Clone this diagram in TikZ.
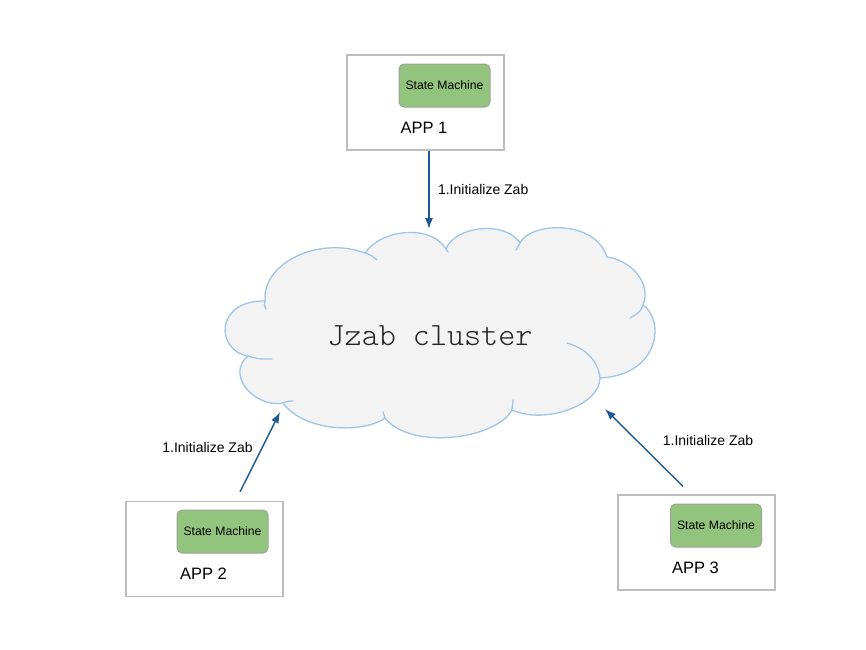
\documentclass[tikz,border=0pt]{standalone}
\usepackage{fontspec}
\setmainfont{Liberation Sans}
\newfontfamily\clustermono{Latin Modern Mono Light}
\usetikzlibrary{arrows.meta}
\definecolor{boxgray}{HTML}{BDBDBD}
\definecolor{smgreen}{HTML}{93C47D}
\definecolor{smedge}{HTML}{9AA595}
\definecolor{cloudfill}{HTML}{F3F3F3}
\definecolor{cloudedge}{HTML}{9FC5E8}
\definecolor{flowblue}{HTML}{1F5A96}
\begin{document}
\begin{tikzpicture}
        [
            x=1pt, y=-1pt,
            app/.style={rectangle, draw=boxgray, line width=1.2pt, fill=white, minimum width=157pt, minimum height=95pt},
            sm/.style={rectangle, rounded corners=5pt, draw=smedge, line width=1pt, fill=smgreen, minimum width=91pt, minimum height=43pt, font=\fontsize{12.2}{14}\selectfont},
            appname/.style={font=\fontsize{16.5}{19}\selectfont},
            flow/.style={-{Latex[length=11pt,width=8pt]}, line width=1.4pt, flowblue},
            flowlabel/.style={text=black, font=\fontsize{14}{16}\selectfont},
            puff/.style={draw=cloudedge, line width=1.3pt, line cap=round},
        ]
            \useasboundingbox (0,0) rectangle (866,649);
            \fill[white] (0,0) rectangle (866,649);

            % cloud outline, junctions A..K clockwise
            \coordinate (A) at (265,301);
            \coordinate (B) at (365,253);
            \coordinate (C) at (446,249);
            \coordinate (D) at (520,243);
            \coordinate (E) at (607,257);
            \coordinate (F) at (643,305);
            \coordinate (G) at (600,378);
            \coordinate (H) at (512,410);
            \coordinate (I) at (385,418);
            \coordinate (J) at (283,403);
            \coordinate (K) at (248,356);
            \path[puff, fill=cloudfill] (K) .. controls (215,350) and (215,300) .. (A)
                .. controls (262,262) and (320,236) .. (B)
                .. controls (380,230) and (430,223) .. (C)
                .. controls (455,226) and (505,220) .. (D)
                .. controls (530,222) and (595,219) .. (E)
                .. controls (630,260) and (652,282) .. (F)
                .. controls (665,320) and (660,375) .. (G)
                .. controls (600,405) and (545,425) .. (H)
                .. controls (495,440) and (410,450) .. (I)
                .. controls (365,433) and (305,433) .. (J)
                .. controls (255,408) and (225,375) .. (K) -- cycle;
            % inner ends of the puffs
            \draw[puff] (A) .. controls (264,304) .. (266,309);
            \draw[puff] (B) .. controls (371,255) .. (377,260);
            \draw[puff] (C) .. controls (447,250) .. (448,252);
            \draw[puff] (D) .. controls (518,246) .. (516,250);
            \draw[puff] (F) .. controls (640,312) .. (630,318);
            \draw[puff] (G) .. controls (598,360) and (585,348) .. (567,343);
            \draw[puff] (H) .. controls (512,405) .. (513,400);
            \draw[puff] (I) .. controls (384,415) .. (383,412);
            \draw[puff] (J) .. controls (288,401) .. (293,401);
            \draw[puff] (K) .. controls (258,359) .. (272,359);

            \node[text=black!85, font=\clustermono\fontsize{32.5}{34}\selectfont] (cluster) at (430,336) {Jzab cluster};

            \node[app] (APP1) at (425.5,102.5) {};
            \node[sm] (SM1) at (444.5,85.5) {State Machine};
            \node[appname] (L1) at (424,128) {APP 1};

            \node[app] (APP2) at (204.5,549) {};
            \node[sm] (SM2) at (222.5,531.5) {State Machine};
            \node[appname] (L2) at (203.5,574) {APP 2};

            \node[app] (APP3) at (696.5,542.5) {};
            \node[sm] (SM3) at (716,525.5) {State Machine};
            \node[appname] (L3) at (695.5,568) {APP 3};

            \coordinate (in1) at (429,229);
            \coordinate (in2) at (280,412);
            \coordinate (in3) at (605,409);

            \draw[flow] ([xshift=3.5pt]APP1.south) -- (in1) node[flowlabel, midway, anchor=west, xshift=5pt] {1.Initialize Zab};
            \draw[flow] ([xshift=35.5pt,yshift=9pt]APP2.north) -- (in2);
            \draw[flow] ([xshift=-13.5pt,yshift=8pt]APP3.north) -- (in3);

            \node[flowlabel] (F2) at (207.5,447) {1.Initialize Zab};
            \node[flowlabel] (F3) at (708,440) {1.Initialize Zab};
        \end{tikzpicture}
\end{document}
